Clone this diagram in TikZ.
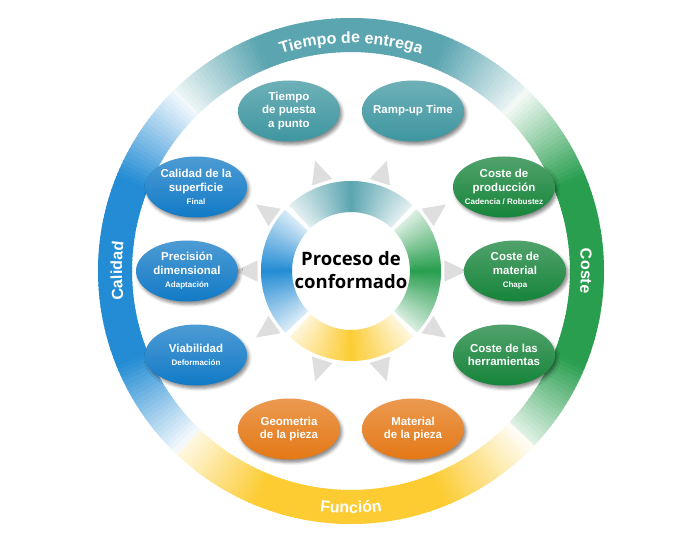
\documentclass[tikz,border=0pt]{standalone}
\usepackage{fontspec}
\setmainfont{Liberation Sans}
\newfontfamily\procfont{Open Sans}
\usetikzlibrary{shapes.geometric,shadows.blur,decorations.text}

\definecolor{tealc}{RGB}{62,150,160}
\definecolor{bluec}{RGB}{18,122,198}
\definecolor{greenc}{RGB}{22,132,58}
\definecolor{orangec}{RGB}{228,120,22}
\definecolor{ringteal}{RGB}{90,165,176}
\definecolor{ringblue}{RGB}{35,140,212}
\definecolor{ringgreen}{RGB}{40,158,78}
\definecolor{ringyellow}{RGB}{252,204,50}
\definecolor{raygray}{RGB}{222,222,222}

\newcommand{\subtxt}[1]{{\fontsize{8pt}{9pt}\selectfont #1}}

\begin{document}
\begin{tikzpicture}[
  x=1pt, y=1pt,
  oval/.style={
    ellipse, minimum width=102pt, minimum height=61pt, inner sep=0pt,
    top color=#1!75!white, bottom color=#1,
    blur shadow={shadow xshift=2pt, shadow yshift=-3pt,
      shadow blur radius=3pt, shadow opacity=45}
  },
  ovaltext/.style={
    text=white, align=center, inner sep=0pt,
    font=\fontsize{11.5pt}{13.5pt}\selectfont\bfseries
  },
  ringlabel/.style={
    decorate, decoration={text along path, text align=center,
      text color=white,
      text={|\fontsize{16pt}{16pt}\selectfont\bfseries|#1}}
  }
  ]
  \useasboundingbox (-351,-269) rectangle (349,271);

  \foreach \col/\mid in {ringteal/90, ringgreen/0, ringyellow/270, ringblue/180} {
    \foreach \d in {-46,-45,...,45} {
      \pgfmathtruncatemacro\p{max(0,min(100,100*(47-abs(\d+0.5))/25))}
      \pgfmathsetmacro\a{\mid+\d}
      \pgfmathsetmacro\b{\mid+\d+1.4}
      \fill[\col!\p!white] (\a:219pt) arc[start angle=\a, end angle=\b, radius=219pt]
        -- (\b:253pt) arc[start angle=\b, end angle=\a, radius=253pt] -- cycle;
    }
  }

  \path[ringlabel={Tiempo de entrega}]
    (120:228pt) arc[start angle=120, end angle=60, radius=228pt];
  \path[ringlabel={Coste}]
    (12:230pt) arc[start angle=12, end angle=-12, radius=230pt];
  \path[ringlabel={Función}]
    (255:242pt) arc[start angle=255, end angle=285, radius=242pt];
  \path[ringlabel={Calidad}]
    (192:229pt) arc[start angle=192, end angle=168, radius=229pt];

  \foreach \t in {0,35,72,108,145,180,215,252,288,325}
    \fill[raygray] (\t-6.5:94pt) -- (\t:116pt) -- (\t+6.5:94pt) -- cycle;

  \foreach \col/\mid in {ringteal/90, ringgreen/0, ringyellow/270, ringblue/180} {
    \foreach \d in {-43,-42,...,42} {
      \pgfmathtruncatemacro\p{100-82*abs(\d+0.5)/43}
      \pgfmathsetmacro\a{\mid+\d}
      \pgfmathsetmacro\b{min(\mid+\d+1.4,\mid+43.3)}
      \fill[\col!\p!white] (\a:59pt) arc[start angle=\a, end angle=\b, radius=59pt]
        -- (\b:90pt) arc[start angle=\b, end angle=\a, radius=90pt] -- cycle;
    }
  }

  \node[font=\procfont\bfseries\fontsize{18.5pt}{23pt}\selectfont, align=center]
    (proc) at (0,1) {Proceso de\\conformado};

  \node[oval=tealc] (tpp) at (-62,160) {};
  \node[ovaltext] (tpp-t) at (tpp) {Tiempo\\de puesta\\a punto};
  \node[oval=tealc] (ramp) at (62,160) {};
  \node[ovaltext] (ramp-t) at (ramp) {Ramp-up Time};

  \node[oval=greenc] (cprod) at (153,84) {};
  \node[ovaltext] (cprod-t) at (cprod) {Coste de\\producción\\\subtxt{Cadencia / Robustez}};
  \node[oval=greenc] (cmat) at (164,0) {};
  \node[ovaltext] (cmat-t) at (cmat) {Coste de\\material\\\subtxt{Chapa}};
  \node[oval=greenc] (cherr) at (153,-84) {};
  \node[ovaltext] (cherr-t) at (cherr) {Coste de las\\herramientas};

  \node[oval=orangec] (geom) at (-62,-158) {};
  \node[ovaltext] (geom-t) at (geom) {Geometria\\de la pieza};
  \node[oval=orangec] (mat) at (62,-158) {};
  \node[ovaltext] (mat-t) at (mat) {Material\\de la pieza};

  \node[oval=bluec] (csup) at (-155,84) {};
  \node[ovaltext] (csup-t) at (csup) {Calidad de la\\superficie\\\subtxt{Final}};
  \node[oval=bluec] (prec) at (-164,0) {};
  \node[ovaltext] (prec-t) at (prec) {Precisión\\dimensional\\\subtxt{Adaptación}};
  \node[oval=bluec] (viab) at (-155,-84) {};
  \node[ovaltext] (viab-t) at (viab) {Viabilidad\\\subtxt{Deformación}};
\end{tikzpicture}
\end{document}
